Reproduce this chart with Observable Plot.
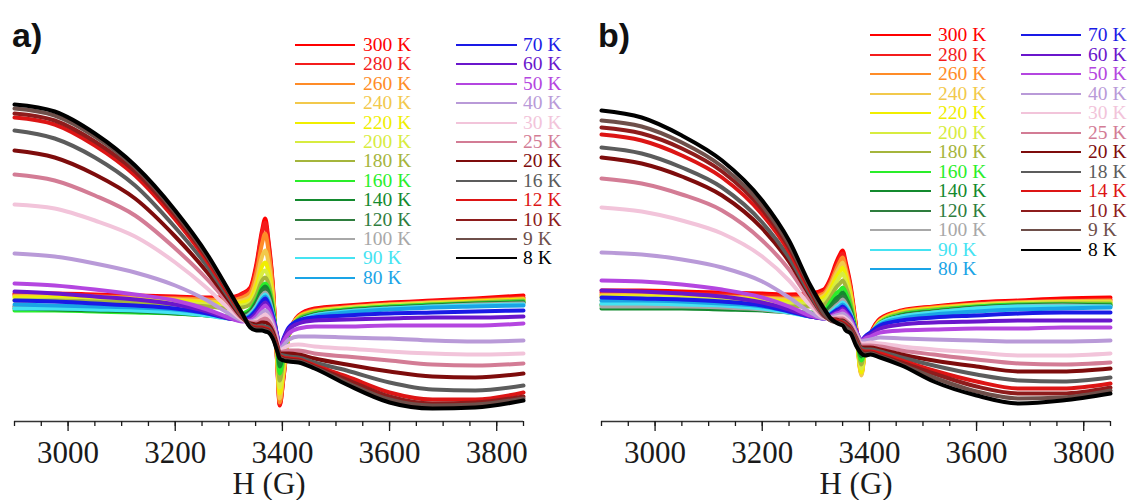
<!DOCTYPE html>
<html><head><meta charset="utf-8">
<script src="https://cdn.jsdelivr.net/npm/d3@7"></script>
<script src="https://cdn.jsdelivr.net/npm/@observablehq/plot@0.6"></script>
<style>
html,body{margin:0;padding:0;background:#fff;}
#root{position:relative;width:1131px;height:500px;overflow:hidden;font-family:"Liberation Serif",serif;}
.panel{position:absolute;top:0;}
.panel svg text{font-family:"Liberation Serif",serif;}
.tag{position:absolute;font-family:"Liberation Sans",sans-serif;font-weight:bold;font-size:34px;color:#111;line-height:1;}
.lt{position:absolute;font-family:"Liberation Serif",serif;font-size:19.5px;line-height:18px;white-space:nowrap;}
.ls{position:absolute;height:2px;}
</style></head><body><div id="root"></div>
<script>
// Magnetic field grids (G)
const fieldA = [2900, 2975, 3050, 3125, 3200, 3260, 3300, 3325, 3340, 3352, 3362, 3368, 3374, 3382, 3390, 3395, 3402, 3412, 3430, 3460, 3520, 3600, 3680, 3760, 3850];
const fieldB = [2900, 2975, 3050, 3125, 3200, 3250, 3290, 3315, 3328, 3338, 3345, 3350, 3356, 3365, 3375, 3385, 3392, 3402, 3420, 3460, 3520, 3600, 3680, 3760, 3850];

const tempsA = ["300 K","280 K","260 K","240 K","220 K","200 K","180 K","160 K","140 K","120 K","100 K","90 K","80 K","70 K","60 K","50 K","40 K","30 K","25 K","20 K","16 K","12 K","10 K","9 K","8 K"];
const tempsB = ["300 K","280 K","260 K","240 K","220 K","200 K","180 K","160 K","140 K","120 K","100 K","90 K","80 K","70 K","60 K","50 K","40 K","30 K","25 K","20 K","18 K","14 K","10 K","9 K","8 K"];

const colorsA = ["#ff0000","#f41c1c","#ff8c28","#f2c94c","#f0ee00","#d8ec40","#a5b53c","#2aee2a","#138a2e","#2e7d3e","#a8a8a8","#45e3f2","#1aa4e6","#1a1ae6","#6a16cc","#b446e0","#b99ad8","#f2c4da","#d37c95","#7e0c0c","#5c5c5c","#dd1515","#8e1c1c","#6e4f4a","#000000"];
const colorsB = colorsA;

// EPR intensity (arb. u.), one row per temperature, panel a
const intensityA = [
  [37,37,36,35,34,33,33, 37,43,68,100,112,90,47,-30,-75,-48,-5,15, 22,25,28,30,32,35],
  [36,36,35,34,33,32,32, 36,41,65,97,108,87,45,-30,-74,-47,-5,14, 21,24,27,29,31,33],
  [35,35,34,33,32,31,30, 33,38,59,87,97,80,42,-28,-72,-45,-5,14, 20,23,26,28,30,32],
  [34,34,33,32,31,29,28, 30,34,51,74,80,68,36,-26,-68,-42,-5,13, 19,23,26,28,29,31],
  [33,33,32,31,30,28,26, 28,31,45,64,68,59,32,-23,-63,-38,-4,13, 19,22,25,27,29,31],
  [31,31,30,29,28,26,24, 25,28,40,57,60,53,29,-20,-57,-34,-4,12, 18,22,25,27,28,30],
  [30,30,29,28,26,24,22, 23,26,36,50,53,47,26,-17,-50,-30,-3,12, 18,21,24,26,28,30],
  [20,20,19,18,17,15,14, 17,21,31,44,47,42,23,-14,-43,-26,-3,11, 17,21,24,26,27,29],
  [22,21,20,19,17,15,13, 15,19,29,41,44,39,21,-11,-36,-22,-2,10, 16,20,23,25,27,28],
  [24,23,22,21,19,16,13, 14,18,27,38,41,36,19,-9,-30,-18,-1,10, 16,20,23,25,26,28],
  [24,23,22,21,19,16,13, 13,17,25,35,38,33,17,-7,-25,-14,0,9, 15,19,22,24,26,27],
  [22,22,21,20,18,15,12, 12,16,24,33,36,31,16,-6,-22,-12,1,9, 15,19,22,24,25,26],
  [26,25,24,23,21,17,13, 12,15,22,31,34,29,15,-5,-20,-10,2,8, 14,18,21,23,24,25],
  [30,29,27,25,22,17,12, 11,14,21,29,32,27,14,-4,-18,-8,3,10, 13,15,17,18,19,20],
  [39,37,34,31,26,19,12, 10,12,18,25,28,24,12,-5,-18,-9,1,7, 10,11,12,13,13,14],
  [47,45,41,36,30,21,13, 9,10,15,22,25,21,10,-6,-19,-11,-3,2, 4,4,5,5,5,7],
  [77,74,67,58,45,30,17, 10,9,12,18,20,17,7,-8,-20,-15,-9,-6, -6,-7,-8,-10,-11,-10],
  [126,122,110,94,68,42,22, 11,8,10,14,16,13,4,-10,-21,-18,-15,-14, -16,-18,-21,-23,-24,-23],
  [156,150,135,115,82,51,27, 12,8,8,11,12,10,2,-12,-22,-21,-20,-20, -23,-26,-30,-34,-35,-33],
  [180,173,156,132,94,58,30, 13,7,6,8,8,6,-1,-14,-23,-23,-23,-24, -28,-34,-41,-46,-47,-43],
  [200,192,173,145,103,64,33, 14,6,4,5,4,3,-4,-16,-24,-25,-26,-27, -32,-40,-52,-59,-60,-55],
  [213,206,185,155,111,69,36, 15,5,3,3,2,1,-5,-17,-25,-27,-28,-29, -35,-46,-62,-69,-69,-62],
  [217,210,189,159,115,72,38, 16,4,2,2,1,0,-6,-18,-26,-28,-29,-30, -36,-49,-66,-73,-72,-66],
  [222,215,194,163,118,74,39, 16,4,1,1,0,-1,-7,-19,-27,-29,-30,-31, -37,-52,-69,-75,-74,-68],
  [226,219,197,165,120,76,40, 17,3,0,0,-1,-2,-8,-20,-28,-30,-31,-32, -38,-54,-72,-78,-77,-70]
];

// panel b
const intensityB = [
  [40,40,39,38,37,36,37,41, 53,68,76,80,68,45,5,-42,-17,-3,12, 20,24,28,30,32,33],
  [38,38,37,36,35,34,35,39, 51,65,73,77,65,42,3,-43,-18,-4,11, 19,23,27,29,30,31],
  [36,36,35,34,33,32,33,37, 48,61,69,73,62,40,2,-44,-19,-5,10, 19,23,26,28,29,30],
  [35,35,34,33,32,31,31,35, 45,57,64,68,58,37,0,-45,-20,-6,10, 18,22,26,28,29,29],
  [34,34,33,32,31,29,29,33, 42,53,59,63,54,34,0,-42,-19,-6,9, 18,22,25,27,28,28],
  [33,33,32,31,29,27,27,30, 38,48,54,57,49,31,-1,-38,-18,-6,9, 17,21,25,27,28,28],
  [30,30,29,28,26,24,24,26, 34,43,47,50,44,28,-1,-34,-16,-6,8, 17,21,24,26,27,27],
  [25,25,24,23,21,19,18,20, 29,37,40,43,38,24,-2,-30,-15,-6,8, 16,20,24,26,26,26],
  [22,22,22,21,20,18,17,18, 25,32,35,38,33,21,-2,-26,-14,-5,7, 15,19,23,25,26,25],
  [26,26,25,24,22,19,16,16, 22,28,31,34,30,19,-2,-22,-12,-5,7, 15,19,23,25,25,25],
  [24,24,24,23,21,18,15,14, 20,25,28,31,27,17,-2,-18,-10,-4,7, 14,18,22,24,25,24],
  [27,27,26,25,22,18,14,13, 18,23,26,28,25,16,-2,-15,-8,-3,7, 14,18,22,24,24,24],
  [30,30,29,27,24,19,14,12, 17,21,24,26,23,15,-1,-12,-7,-2,6, 12,16,19,21,22,23],
  [33,32,31,29,25,19,14,12, 16,20,22,24,21,14,0,-10,-6,-2,5, 10,13,15,17,18,18],
  [40,39,37,34,28,21,14,12, 15,18,20,22,19,12,0,-10,-7,-4,2, 6,8,9,10,10,10],
  [50,49,46,41,33,24,15,12, 14,17,18,20,17,11,-1,-10,-8,-6,-2, 0,1,2,2,3,3],
  [78,76,71,63,49,33,18,12, 13,15,16,17,15,9,-2,-11,-10,-9,-7, -8,-9,-10,-11,-11,-10],
  [123,119,110,97,74,50,25,13, 12,13,14,14,12,7,-4,-13,-13,-12,-13, -16,-19,-22,-25,-25,-23],
  [152,147,136,120,90,61,30,14, 12,12,12,12,10,5,-5,-15,-15,-15,-16, -20,-24,-29,-33,-34,-32],
  [173,167,154,135,102,69,34,15, 11,11,10,10,8,3,-7,-17,-17,-17,-19, -24,-30,-36,-41,-41,-38],
  [183,177,163,143,108,73,36,15, 11,10,9,9,7,2,-8,-18,-19,-19,-21, -27,-35,-44,-50,-51,-47],
  [196,190,175,153,116,79,39,16, 11,10,9,8,6,1,-10,-20,-21,-21,-23, -30,-40,-51,-58,-58,-53],
  [203,197,182,159,121,83,41,16, 10,9,8,7,5,0,-11,-21,-22,-22,-25, -32,-43,-56,-63,-63,-57],
  [210,204,188,164,125,86,43,17, 10,8,7,6,3,-1,-12,-22,-24,-23,-26, -34,-47,-61,-68,-67,-60],
  [220,213,195,170,130,90,45,22, 12,8,6,5,0,-3,-15,-23,-25,-24,-27, -35,-51,-65,-73,-70,-63]
];

const majorTicks = [3000, 3200, 3400, 3600, 3800];
const minorTicks = [2900, 2950, 3000, 3050, 3100, 3150, 3200, 3250, 3300, 3350, 3400, 3450, 3500, 3550, 3600, 3650, 3700, 3750, 3800, 3850];
const xDomain = [2900, 3850];
const yDomain = [-91, 240];
const axisLabel = "H (G)";
const panelTags = ["a)", "b)"];

const root = document.getElementById("root");

function makePanel(field, temps, colors, curves, left, width, mL, mR) {
  const data = temps.flatMap((t, i) => field.map((h, j) => ({T: t, H: h, v: curves[i][j]})));
  const chart = Plot.plot({
    width, height: 500,
    marginLeft: mL, marginRight: mR, marginTop: 90, marginBottom: 79,
    style: {fontFamily: "'Liberation Serif', serif", fontSize: "31px", color: "#1a1a1a", background: "transparent", overflow: "visible"},
    x: {domain: xDomain},
    y: {domain: yDomain, axis: null},
    color: {domain: temps, range: colors},
    marks: [
      Plot.line(data, {x: "H", y: "v", z: "T", stroke: "T", strokeWidth: 4, curve: "monotone-x"}),
      Plot.ruleY([yDomain[0]], {stroke: "#333", strokeWidth: 1.4}),
      Plot.axisX({ticks: minorTicks, tickSize: 5, tickFormat: () => "", label: null, strokeWidth: 1.3}),
      Plot.axisX({ticks: majorTicks, tickSize: 10, tickPadding: 9, tickFormat: "d", label: axisLabel, labelAnchor: "center", labelArrow: "none", labelOffset: 72, strokeWidth: 1.3})
    ]
  });
  const wrap = document.createElement("div");
  wrap.className = "panel";
  wrap.style.left = left + "px";
  wrap.appendChild(chart);
  root.appendChild(wrap);
}

function makeLegend(temps, colors, cols, y0, dy) {
  temps.forEach((t, i) => {
    const c = i < 13 ? cols[0] : cols[1];
    const r = i < 13 ? i : i - 13;
    const y = y0 + r * dy;
    const s = document.createElement("div");
    s.className = "ls";
    s.style.left = c.x0 + "px"; s.style.width = (c.x1 - c.x0) + "px";
    s.style.top = (y - 1) + "px"; s.style.background = colors[i];
    root.appendChild(s);
    const tx = document.createElement("div");
    tx.className = "lt";
    tx.style.left = c.tx + "px"; tx.style.top = (y - 9) + "px"; tx.style.color = colors[i];
    tx.textContent = t;
    root.appendChild(tx);
  });
}

function makeTag(text, x) {
  const d = document.createElement("div");
  d.className = "tag"; d.textContent = text;
  d.style.left = x + "px"; d.style.top = "18px";
  root.appendChild(d);
}

makePanel(fieldA, tempsA, colorsA, intensityA, 0, 565, 14, 42);
makePanel(fieldB, tempsB, colorsB, intensityB, 565, 566, 36, 21);
makeLegend(tempsA, colorsA, [{x0: 295, x1: 355, tx: 363}, {x0: 456, x1: 517, tx: 523}], 45, 19.39);
makeLegend(tempsB, colorsB, [{x0: 870, x1: 931, tx: 938}, {x0: 1021, x1: 1081, tx: 1088}], 35, 19.5);
makeTag(panelTags[0], 12);
makeTag(panelTags[1], 598);
</script></body></html>
